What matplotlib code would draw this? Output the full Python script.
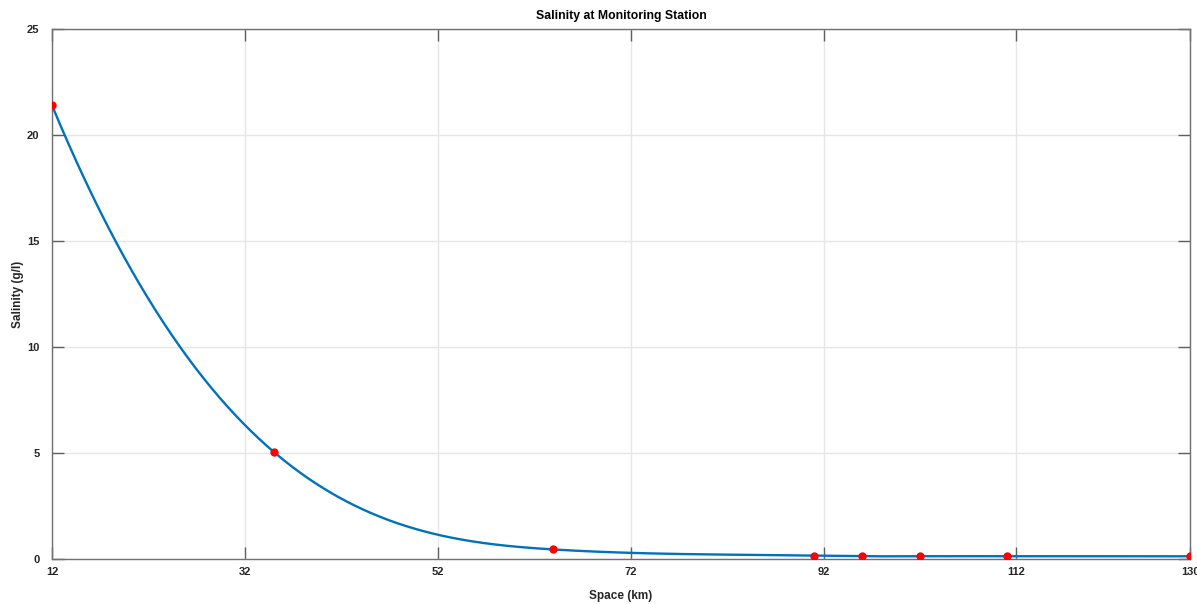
import numpy as np
import matplotlib
matplotlib.use("Agg")
import matplotlib.pyplot as plt

# Station positions along the estuary (km) and measured salinity (g/l)
station_km = [12, 35, 64, 91, 96, 102, 111, 130]
salinity = [21.4, 5.05, 0.45, 0.16, 0.13, 0.13, 0.13, 0.13]
x_ticks = [12, 32, 52, 72, 92, 112, 130]
y_ticks = [0, 5, 10, 15, 20, 25]


def spline_nak(x, y, xq):
    # cubic spline with not-a-knot end conditions
    x = np.asarray(x, float)
    y = np.asarray(y, float)
    n = len(x)
    h = np.diff(x)
    A = np.zeros((n, n))
    b = np.zeros(n)
    for i in range(1, n - 1):
        A[i, i - 1] = h[i - 1]
        A[i, i] = 2 * (h[i - 1] + h[i])
        A[i, i + 1] = h[i]
        b[i] = 3 * ((y[i + 1] - y[i]) / h[i] - (y[i] - y[i - 1]) / h[i - 1])
    A[0, 0] = h[1]
    A[0, 1] = -(h[0] + h[1])
    A[0, 2] = h[0]
    A[-1, -3] = h[-1]
    A[-1, -2] = -(h[-2] + h[-1])
    A[-1, -1] = h[-2]
    c = np.linalg.solve(A, b)
    bb = np.diff(y) / h - h * (2 * c[:-1] + c[1:]) / 3
    dd = np.diff(c) / (3 * h)
    idx = np.clip(np.searchsorted(x, xq) - 1, 0, n - 2)
    dx = xq - x[idx]
    return y[idx] + bb[idx] * dx + c[idx] * dx**2 + dd[idx] * dx**3


plt.rcParams["font.family"] = ["Liberation Sans", "DejaVu Sans"]
plt.rcParams["font.weight"] = "bold"
text_color = "#262626"

xs = np.linspace(station_km[0], station_km[-1], 1000)

fig = plt.figure(figsize=(11.97, 6.04), dpi=100)
ax = fig.add_axes([52 / 1197, 45 / 604, 1138 / 1197, 530 / 604])
ax.plot(xs, spline_nak(station_km, salinity, xs), color="#0072BD", lw=1.7, zorder=3)
ax.plot(station_km, salinity, "o", color="red", ms=5, zorder=4)

ax.set_xlim(12, 130)
ax.set_ylim(0, 25)
ax.set_xticks(x_ticks)
ax.set_yticks(y_ticks)
ax.grid(True, color="#e6e6e6", lw=1)
ax.set_axisbelow(True)
for s in ax.spines.values():
    s.set_color("#707070")
    s.set_linewidth(1)
ax.tick_params(direction="in", length=8.5, width=1, color="#606060",
               top=True, right=True, labelsize=8, labelcolor=text_color)
ax.tick_params(axis="x", pad=6)
ax.tick_params(axis="y", pad=9)
for lbl in ax.get_xticklabels() + ax.get_yticklabels():
    lbl.set_fontweight("bold")

ax.set_title("Salinity at Monitoring Station", fontsize=8.8, fontweight="bold",
             color="black", pad=7)
ax.set_xlabel("Space (km)", fontsize=8.5, fontweight="bold", color=text_color, labelpad=9)
ax.set_ylabel("Salinity (g/l)", fontsize=8.5, fontweight="bold", color=text_color, labelpad=2.5)

fig.savefig("out.png")
